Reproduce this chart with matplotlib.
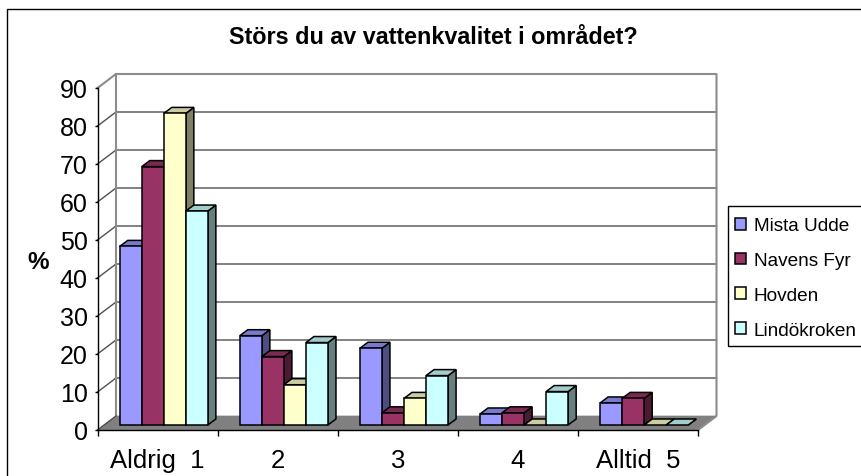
# coding: utf-8
import matplotlib
matplotlib.use("Agg")
import matplotlib.pyplot as plt
from matplotlib.patches import Polygon, Patch, Rectangle
from matplotlib.colors import to_rgb

plt.rcParams['font.family'] = ['Liberation Sans', 'DejaVu Sans']

categories = ['Aldrig  1', '2', '3', '4', 'Alltid  5']
series_names = ['Mista Udde', 'Navens Fyr', 'Hovden', 'Lindökroken']
mista = [47, 23.5, 20.2, 2.9, 5.8]
navens = [68, 18, 3.2, 3.2, 7]
hovden = [82, 10.6, 7, 0, 0]
lindo = [56.3, 21.7, 13, 8.8, 0]
colors = ['#9999FF', '#993366', '#FFFFCC', '#CCFFFF']
all_series = [mista, navens, hovden, lindo]

W, H = 861, 477
fig = plt.figure(figsize=(W / 100, H / 100), dpi=100)
# plot box in pixels: x 97.5..698, value 0 at y=431, 90 at y=89
ax = fig.add_axes([97.5 / W, 1 - 431 / H, 600.5 / W, 342 / H])
ax.set_xlim(0, 5)
ax.set_ylim(0, 90)
for s in ax.spines.values():
    s.set_visible(False)
ax.patch.set_visible(False)

px = 5 / 600.5  # x units per pixel
py = 90 / 342   # y units per pixel
wall_dx, wall_dy = 18.5 * px, 14 * py
bar_dx, bar_dy = 8 * px, 6 * py
base = 5 * py
bar_w = 0.1835
start = 0.185


def darker(c, f):
    return tuple(v * f for v in to_rgb(c))


# floor
ax.add_patch(Polygon([(0, 0), (5, 0), (5 + wall_dx, wall_dy), (wall_dx, wall_dy)],
                     fc='#808080', ec='#808080', lw=0.5, zorder=1, clip_on=False))
# grid on back wall and side wall
for v in range(10, 90, 10):
    ax.plot([0, wall_dx, 5 + wall_dx], [v, v + wall_dy, v + wall_dy], color='#505050',
            lw=1.0, zorder=1, clip_on=False)
ax.plot([0, wall_dx, 5 + wall_dx, 5 + wall_dx, 5], [90, 90 + wall_dy, 90 + wall_dy, wall_dy, 0],
        color='#8c8c8c', lw=1.5, zorder=1.5, clip_on=False)
ax.plot([wall_dx, wall_dx], [wall_dy, 90 + wall_dy], color='#8c8c8c', lw=1.5, zorder=1.5,
        clip_on=False)
ax.plot([0, wall_dx], [0, wall_dy], color='#505050', lw=1.0, zorder=1.5, clip_on=False)

# bars, left to right so the later ones cover the side of the earlier ones
z = 2
for i in range(len(categories)):
    for j, vals in enumerate(all_series):
        v = vals[i]
        c = colors[j]
        x0 = i + start + j * bar_w
        x1 = x0 + bar_w
        top = base + v
        ax.add_patch(Polygon([(x1, base), (x1 + bar_dx, base + bar_dy), (x1 + bar_dx, top + bar_dy), (x1, top)],
                             fc=darker(c, 0.5), ec='black', lw=1.1, zorder=z, clip_on=False))
        ax.add_patch(Polygon([(x0, top), (x1, top), (x1 + bar_dx, top + bar_dy), (x0 + bar_dx, top + bar_dy)],
                             fc=darker(c, 0.8), ec='black', lw=1.1, zorder=z, clip_on=False))
        if v > 0:
            ax.bar(x0, v, bar_w, bottom=base, align='edge', color=c, edgecolor='black',
                   linewidth=1.1, zorder=z, clip_on=False)
        z += 1

# axes lines and ticks
ax.plot([0, 0], [0, 90], color='black', lw=1.0, zorder=20, clip_on=False)
ax.plot([0, 5], [0, 0], color='black', lw=1.0, zorder=1.6, clip_on=False)
ax.set_yticks(range(0, 100, 10))
ax.tick_params(axis='y', length=2, width=1, pad=5, labelsize=18)
ax.set_xticks(range(6))
ax.set_xticklabels([])
ax.tick_params(axis='x', which='major', length=4.3, width=1)
ax.set_xticks([i + 0.5 for i in range(5)], minor=True)
ax.set_xticklabels(categories, minor=True, fontsize=18.5)
ax.tick_params(axis='x', which='minor', length=0, pad=13)

fig.text(38.5 / W, 1 - 263 / H, '%', fontsize=17.5, fontweight='bold', ha='center', va='center')
fig.text(433 / W, 1 - 38 / H, 'Störs du av vattenkvalitet i området?', fontsize=16.8,
         fontweight='bold', ha='center', va='center')

# outer frame runs off the right and bottom edge
fig.add_artist(Rectangle((7 / W, -0.05), 1.0, 1 - 10 / H + 0.05, transform=fig.transFigure,
                         fc='none', ec='black', lw=1.0))
# legend box also runs off the right edge
fig.add_artist(Rectangle((727.5 / W, 1 - 346.7 / H), 0.2, 139.7 / H, transform=fig.transFigure,
                         fc='white', ec='black', lw=1.0))

handles = [Patch(fc=c, ec='black', lw=1.1) for c in colors]
leg = fig.legend(handles, series_names, loc='upper left', bbox_to_anchor=(724.5 / W, 1 - 208 / H),
                 fontsize=13.7, frameon=False,
                 handlelength=0.58, handleheight=0.58, handletextpad=0.42,
                 labelspacing=0.93, borderpad=0.55, borderaxespad=0, labelcolor='black')

fig.savefig('out.png', dpi=100)
